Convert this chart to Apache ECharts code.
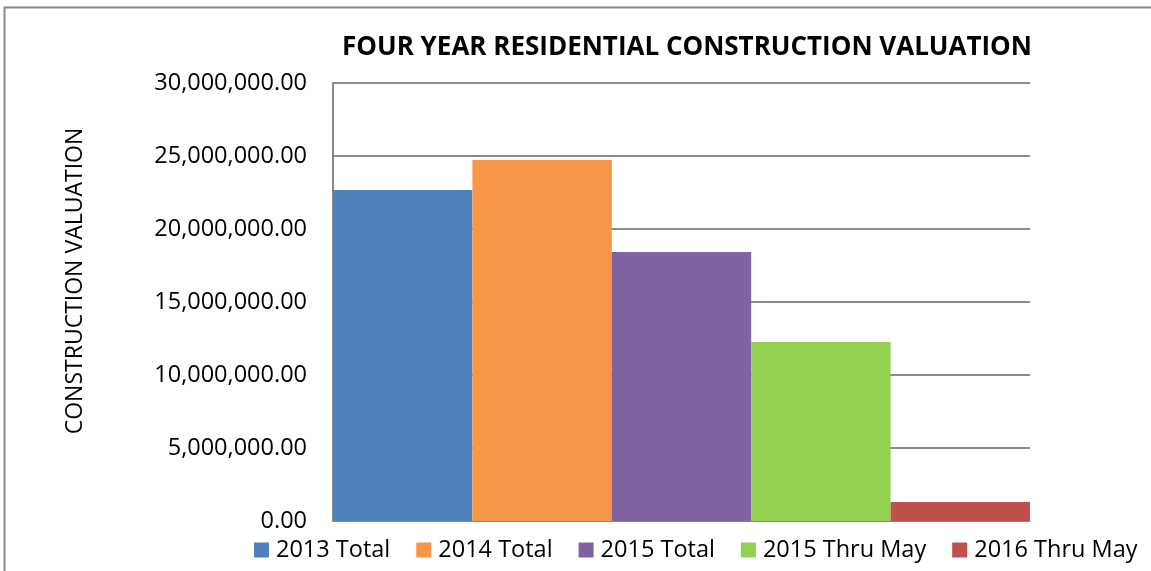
<!DOCTYPE html>
<html>
<head>
<meta charset="utf-8">
<script src="https://cdn.jsdelivr.net/npm/echarts@6/dist/echarts.min.js"></script>
<style>
  html, body { margin: 0; padding: 0; background: #fff; }
  #chart { width: 1151px; height: 571px; }
</style>
</head>
<body>
<div id="chart"></div>
<script>
const seriesNames = ['2013 Total', '2014 Total', '2015 Total', '2015 Thru May', '2016 Thru May']
const seriesValues = [22670000, 24730000, 18420000, 12260000, 1300000]
const seriesColors = ['#4F81BD', '#F79646', '#8064A2', '#92D050', '#C0504D']
const yTicks = [0, 5000000, 10000000, 15000000, 20000000, 25000000, 30000000]

const font = 'Open Sans'

const chart = echarts.init(document.getElementById('chart'), null, { renderer: 'canvas' })

const series = seriesNames.map((name, i) => ({
  name: name,
  type: 'bar',
  data: [seriesValues[i]],
  barGap: '0%',
  barCategoryGap: '0%',
  itemStyle: { color: seriesColors[i] },
  animation: false
}))

chart.setOption({
  backgroundColor: '#fff',
  textStyle: { fontFamily: font },
  title: {
    text: 'FOUR YEAR RESIDENTIAL CONSTRUCTION VALUATION',
    left: 682,
    textAlign: 'center',
    top: 30,
    textStyle: { fontFamily: font, fontWeight: 'bold', fontSize: 26, color: '#000' }
  },
  graphic: [{
    type: 'rect',
    shape: { x: 4.5, y: 7.5, width: 1200, height: 600 },
    style: { fill: 'none', stroke: '#888', lineWidth: 2 },
    silent: true
  }],
  legend: {
    data: seriesNames,
    left: 254,
    width: 890,
    top: 538,
    padding: 0,
    itemWidth: 15,
    itemHeight: 15,
    itemGap: 26,
    icon: 'rect',
    textStyle: { fontFamily: font, fontSize: 23.5, color: '#000', padding: [0, 0, 0, 2] }
  },
  grid: { left: 333, right: 121, top: 83, bottom: 50, containLabel: false },
  xAxis: {
    type: 'category',
    data: [''],
    axisLine: { show: true, lineStyle: { color: '#888', width: 1 } },
    axisTick: { show: false },
    axisLabel: { show: false }
  },
  yAxis: {
    type: 'value',
    min: yTicks[0],
    max: yTicks[yTicks.length - 1],
    interval: 5000000,
    name: 'CONSTRUCTION VALUATION',
    nameLocation: 'middle',
    nameGap: 246,
    nameRotate: 90,
    nameTextStyle: { fontFamily: font, fontSize: 23, color: '#000', padding: [0, 0, 0, 42] },
    axisLine: { show: true, lineStyle: { color: '#888', width: 2 } },
    axisTick: { show: false },
    axisLabel: {
      fontFamily: font,
      fontSize: 23.5,
      color: '#000',
      margin: 26,
      formatter: v => v.toLocaleString('en-US', { minimumFractionDigits: 2, maximumFractionDigits: 2 })
    },
    splitLine: { show: true, lineStyle: { color: '#8a8a8a', width: 2 } }
  },
  series: series
})
</script>
</body>
</html>
